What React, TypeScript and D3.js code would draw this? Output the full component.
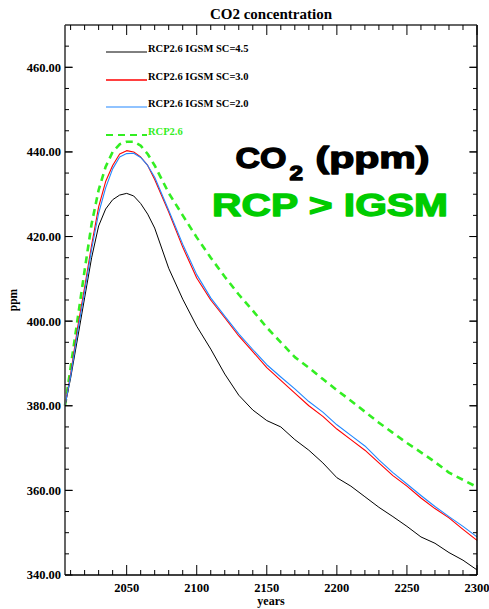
import React from "react";
import * as d3 from "d3";

const years = [2006, 2010, 2015, 2020, 2025, 2030, 2035, 2040, 2045, 2050, 2055, 2060, 2065, 2070, 2080, 2090, 2100, 2110, 2120, 2130, 2140, 2150, 2160, 2170, 2180, 2190, 2200, 2210, 2220, 2230, 2240, 2250, 2260, 2270, 2280, 2290, 2300];

const sc45 = [380, 386.5, 396, 405.5, 415, 422.5, 426.5, 428.7, 429.8, 430.2, 429.6, 427.8, 425.3, 422, 412.5, 405.2, 398.8, 393.4, 387.5, 382.5, 379, 376.5, 375, 372, 369.5, 366.5, 363, 361, 358.5, 356, 353.8, 351.5, 349, 347.5, 345.3, 343.5, 341.2];
const sc30 = [380, 387.5, 398.5, 408, 418, 427, 433, 436.8, 439.5, 440.3, 440, 438.8, 436.8, 433.5, 425.8, 417.5, 410.2, 405, 400.8, 396.5, 392.8, 389, 386, 383, 380, 377.5, 374.5, 372, 369.5, 366.5, 363.5, 361, 358.2, 355.7, 353.5, 350.8, 348.2];
const sc20 = [380, 387, 397.5, 407, 417, 425.5, 431.5, 436, 438.8, 439.6, 439.7, 438.7, 436.8, 434, 426.2, 418.2, 411, 405.5, 401.2, 397, 393.3, 389.7, 386.8, 384, 381, 378.5, 375.5, 373, 370.5, 367.2, 364.2, 361.5, 358.8, 356.2, 353.8, 351.5, 349];
const rcp26 = [380, 389, 400.5, 412, 423, 431, 436.5, 440, 441.8, 442.4, 442.4, 441.5, 439.5, 436.8, 430.3, 425, 419.8, 415, 410.5, 406.3, 402.5, 398.5, 395, 391.5, 389, 386.3, 383.7, 381.2, 378.6, 376, 373.6, 371.2, 369, 366.7, 364.2, 362.5, 360.8];

const seriesNames = ["RCP2.6 IGSM SC=4.5", "RCP2.6 IGSM SC=3.0", "RCP2.6 IGSM SC=2.0", "RCP2.6"];
const yMajorTicks = [340, 360, 380, 400, 420, 440, 460];
const xMajorTicks = [2050, 2100, 2150, 2200, 2250, 2300];

const W = 489, H = 609;
const L = 65, R = 477, T = 25, B = 575;

export default function App() {
  const x = d3.scaleLinear().domain([2006, 2300]).range([L, R]);
  const y = d3.scaleLinear().domain([340, 470]).range([B, T]);

  const line = (vals: number[]) =>
    d3.line<number>().x((_, i) => x(years[i])).y((v) => y(v))(vals) || "";

  const series = [
    { name: seriesNames[0], vals: sc45, color: "#000000", width: 1, dash: undefined as string | undefined, legW: 1 },
    { name: seriesNames[1], vals: sc30, color: "#ff0000", width: 1.1, dash: undefined, legW: 1.6 },
    { name: seriesNames[2], vals: sc20, color: "#2288ff", width: 1.1, dash: undefined, legW: 1.1 },
    { name: seriesNames[3], vals: rcp26, color: "#33ee22", width: 2.6, dash: "7,5", legW: 2 },
  ];

  const xMinor = d3.range(2010, 2301, 10);
  const yMinor = d3.range(345, 470, 5);
  const serif = "'Liberation Serif', 'Times New Roman', serif";
  const sans = "'Liberation Sans', Arial, sans-serif";
  const legY = [52, 80, 107, 135];

  return (
    <svg width={W} height={H} style={{ position: "absolute", left: 0, top: 0, display: "block", background: "#fff" }}>
      <rect x={0} y={0} width={W} height={H} fill="#fff" />
      {/* title */}
      <text x={(L + R) / 2} y={19} textAnchor="middle" fontFamily={serif} fontWeight="bold" fontSize={15}>
        CO2 concentration
      </text>

      {/* curves */}
      <g fill="none">
        {[3, 0, 1, 2].map((i) => {
          const s = series[i];
          return (
            <path key={s.name} d={line(s.vals)} stroke={s.color} strokeWidth={s.width} strokeDasharray={s.dash} strokeLinejoin="round" />
          );
        })}
      </g>

      {/* legend */}
      {series.map((s, i) => (
        <g key={"leg" + i}>
          <line x1={106} x2={147} y1={legY[i]} y2={legY[i]} stroke={s.color} strokeWidth={s.legW} strokeDasharray={s.dash} />
          <text x={148} y={legY[i]} fontFamily={serif} fontWeight="bold" fontSize={10.5} fill={i === 3 ? s.color : "#000"}>
            {s.name}
          </text>
        </g>
      ))}

      {/* axes frame */}
      <line x1={L} x2={L} y1={T} y2={B} stroke="#555" strokeWidth={1.8} />
      <line x1={R} x2={R} y1={T} y2={B} stroke="#000" strokeWidth={1.5} />
      <line x1={L} x2={R} y1={T} y2={T} stroke="#333" strokeWidth={1.5} />
      <line x1={L} x2={R} y1={B} y2={B} stroke="#000" strokeWidth={1.5} />

      {/* x ticks */}
      {xMinor.map((t) => {
        const major = t % 50 === 0;
        const len = major ? 10 : 5;
        return (
          <g key={"xt" + t}>
            <line x1={x(t)} x2={x(t)} y1={B} y2={B - len} stroke="#000" strokeWidth={1} />
            <line x1={x(t)} x2={x(t)} y1={T} y2={T + len} stroke="#000" strokeWidth={1} />
          </g>
        );
      })}
      {xMajorTicks.map((t) => (
        <text key={"xl" + t} x={x(t)} y={591.5} textAnchor="middle" fontFamily={serif} fontWeight="bold" fontSize={12.5}>
          {t}
        </text>
      ))}
      <text x={(L + R) / 2} y={605} textAnchor="middle" fontFamily={serif} fontWeight="bold" fontSize={12}>
        years
      </text>

      {/* y ticks */}
      {yMinor.map((t) => {
        const major = t % 20 === 0;
        const len = major ? 7.5 : 4;
        return (
          <g key={"yt" + t}>
            <line x1={L} x2={L + len} y1={y(t)} y2={y(t)} stroke="#000" strokeWidth={1} />
            <line x1={R} x2={R - len} y1={y(t)} y2={y(t)} stroke="#000" strokeWidth={1} />
          </g>
        );
      })}
      {yMajorTicks.map((t) => (
        <g key={"ym" + t}>
          <line x1={L} x2={L + 7.5} y1={y(t)} y2={y(t)} stroke="#000" strokeWidth={1} />
          <line x1={R} x2={R - 7.5} y1={y(t)} y2={y(t)} stroke="#000" strokeWidth={1} />
          <text x={61} y={y(t)} dy="0.35em" textAnchor="end" fontFamily={serif} fontWeight="bold" fontSize={12.5}>
            {d3.format(".2f")(t)}
          </text>
        </g>
      ))}
      <text transform={`translate(17,${(T + B) / 2}) rotate(-90)`} textAnchor="middle" fontFamily={serif} fontWeight="bold" fontSize={11.5}>
        ppm
      </text>

      {/* annotation */}
      <g stroke="#000" strokeWidth={1.3} strokeLinejoin="round">
        <text x={235.5} y={167.5} fontFamily={sans} fontWeight="bold" fontSize={29} textLength={51} lengthAdjust="spacingAndGlyphs">
          CO
        </text>
        <text x={289.5} y={179.5} fontFamily={sans} fontWeight="bold" fontSize={20} textLength={13.5} lengthAdjust="spacingAndGlyphs">
          2
        </text>
        <text x={315.5} y={167.5} fontFamily={sans} fontWeight="bold" fontSize={29} textLength={114} lengthAdjust="spacingAndGlyphs">
          (ppm)
        </text>
      </g>
      <text x={212} y={216} fontFamily={sans} fontWeight="bold" fontSize={32} fill="#00cc00" stroke="#00cc00" strokeWidth={1.3} strokeLinejoin="round" textLength={236} lengthAdjust="spacingAndGlyphs">
        {"RCP > IGSM"}
      </text>
    </svg>
  );
}
